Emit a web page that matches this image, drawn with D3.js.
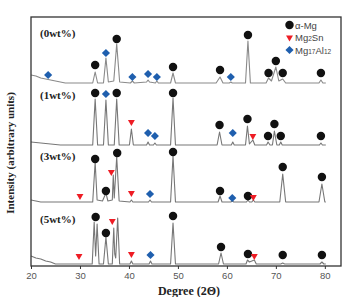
<!DOCTYPE html>
<html><head><meta charset="utf-8">
<script src="https://cdn.jsdelivr.net/npm/d3@7"></script>
<style>html,body{margin:0;padding:0;background:#fff;}svg{display:block;}</style>
</head><body>
<svg id="c" width="344" height="297"></svg>
<script>
// ---- data ----
const xTicks = [20, 30, 40, 50, 60, 70, 80];
const seriesNames = ["(0wt%)", "(1wt%)", "(3wt%)", "(5wt%)"];
const seriesOffsets = [183, 121, 64, 2];
const profile0wt = [[20,8],[21,7],[22,5],[23,4],[24,3],[25,2],[26,1],[27,0],[32.6,0],[33.1,11],[33.6,0],[34.8,0],[35.3,25],[35.8,1],[36.9,2],[37.5,39],[38.1,1],[40.3,0],[40.7,2],[41.1,0],[43.6,1],[43.9,3],[44.2,1],[45.4,0],[45.7,2],[46,0],[48.5,0],[49,10],[49.5,0],[57.8,0],[58.6,6],[59.2,0],[60.5,0],[60.8,1],[61.1,0],[63.8,0],[64.3,42],[64.8,0],[68,0],[68.5,5],[69.1,2],[70,16],[70.6,2],[71.4,4],[72,0],[78.8,0],[79.2,3],[79.6,0],[80.2,0]];
const profile1wt = [[20,3],[22,2],[24,1],[26,0],[32.6,0],[33.1,46],[33.6,0],[34.8,0],[35.3,45],[35.8,0],[37,0],[37.5,46],[38,0],[40.1,0],[40.5,16],[40.9,0],[43.6,0],[43.9,3],[44.2,0],[45,0],[45.3,2],[45.6,0],[48.5,0],[49,47],[49.5,0],[58,0],[58.5,13],[59,0],[60.9,0],[61.2,3],[61.5,0],[63.8,0],[64.2,19],[64.6,1],[65.3,5],[65.7,0],[68.1,0],[68.4,3],[68.8,0],[69.3,0],[69.7,14],[70.2,0],[70.7,0],[71,3],[71.3,0],[78.9,0],[79.2,2],[79.5,0],[80.2,0]];
const profile3wt = [[20,2],[21,1],[22,0],[32.6,0],[33.1,40],[33.5,2],[34.6,1],[35.3,9],[35.7,1],[36.6,2],[36.8,27],[37,4],[37.5,45],[38,1],[40.2,0],[40.5,2],[40.8,0],[44,0],[44.3,2],[44.6,0],[48.5,0],[49,46],[49.5,0],[58.2,0],[58.6,6],[59,0],[60.8,0],[61.1,1],[61.4,0],[64,0],[64.3,2],[64.6,0],[65.1,0],[65.4,2],[65.7,0],[70.8,0],[71.4,28],[72,0],[78.8,0],[79.4,18],[80,0],[80.2,0]];
const profile5wt = [[20,8],[21,6],[22,5],[23,3],[24,2],[25,0],[32.5,0],[32.9,42],[33.2,8],[33.5,40],[33.9,0],[34.8,0],[35.3,27],[35.8,0],[36.6,0],[36.9,36],[37.1,10],[37.3,6],[37.7,46],[38.1,0],[40.2,0],[40.5,3],[40.8,0],[44.1,0],[44.4,3],[44.7,0],[48.5,0],[49,41],[49.5,0],[58.3,0],[58.8,11],[59.3,0],[63.9,0],[64.2,4],[64.6,2],[65.6,4],[66,0],[71,0],[71.4,1],[71.8,0],[79,0],[79.4,2],[79.8,0],[80.2,0]];
const profiles = [profile0wt, profile1wt, profile3wt, profile5wt];
// markers: [phase, 2theta, height above series baseline]
const markers0wt = [["d",23.5,8],["c",33.1,18],["d",35.3,30],["c",37.5,44],["d",40.7,6],["d",43.9,9],["d",45.7,6],["c",49,16],["c",58.6,13],["d",60.8,6],["c",64.3,48],["c",68.5,10],["c",70,22],["c",71.4,10],["c",79.2,10]];
const markers1wt = [["c",33.1,52],["d",35.3,51],["c",37.5,52],["t",40.5,23],["d",43.9,12],["d",45.3,9],["c",49,52],["c",58.5,20],["d",61.2,12],["c",64.2,26],["t",65.3,9],["c",68.4,9],["c",69.7,21],["c",71,9],["c",79.2,9]];
const markers3wt = [["t",30,6],["c",33.1,43],["c",35.3,11],["t",36.4,30],["c",37.6,49],["t",40.5,9],["d",44.3,8],["c",49,50],["c",58.6,11],["d",61.1,4],["c",64.3,6],["t",65.4,5],["c",71.4,35],["c",79.4,25]];
const markers5wt = [["t",29.8,8],["c",33.2,47],["c",35.3,31],["t",36.6,43],["t",40.5,10],["d",44.4,9],["c",49,48],["c",58.8,17],["c",64.3,10],["t",65.6,8],["c",71.4,9],["c",79.4,9]];
const markerSets = [markers0wt, markers1wt, markers3wt, markers5wt];
const legendKeys = ["c", "t", "d"];
const legendLabels = [["α-Mg", ""], ["Mg", "2", "Sn"], ["Mg", "17", "Al", "12"]];
const phaseColors = {c: "#111111", t: "#ee1c24", d: "#1f5fae"};

// ---- drawing ----
const svg = d3.select("#c");
const x = d3.scaleLinear().domain([20, 83.3]).range([31, 341]);
const y = d3.scaleLinear().domain([0, 249]).range([266, 17]);

function symbolPath(k) {
  if (k === "c") return d3.symbol(d3.symbolCircle, 56)();
  if (k === "d") return d3.symbol(d3.symbolDiamond2, 42)();
  return d3.symbol(d3.symbolTriangle2, 34)();
}
function drawMarker(g, k, cx, cy) {
  const p = g.append("path").attr("d", symbolPath(k)).attr("fill", phaseColors[k]);
  if (k === "t") p.attr("transform", `translate(${cx},${cy}) rotate(180)`);
  else p.attr("transform", `translate(${cx},${cy})`);
}

const line = d3.line().x(d => x(d[0]));
profiles.forEach((prof, i) => {
  const off = seriesOffsets[i];
  svg.append("path")
    .attr("d", line.y(d => y(d[1] + off))(prof))
    .attr("fill", "none")
    .attr("stroke", i === 0 ? "#8a8a8a" : "#777")
    .attr("stroke-width", 1.1)
    .attr("stroke-linejoin", "round");
});
markerSets.forEach((ms, i) => {
  const off = seriesOffsets[i];
  ms.forEach(m => drawMarker(svg, m[0], x(m[1]), y(m[2] + off)));
});

// series labels
const labelY = [37, 99, 160, 223];
seriesNames.forEach((n, i) => {
  svg.append("text").attr("x", 40).attr("y", labelY[i])
    .attr("font-family", "Liberation Serif, serif").attr("font-weight", "bold")
    .attr("font-size", 11).attr("fill", "#222").text(n);
});

// frame
svg.append("rect").attr("x", 31).attr("y", 17).attr("width", 310).attr("height", 249)
  .attr("fill", "none").attr("stroke", "#333").attr("stroke-width", 1.3);

// x axis
const ax = svg.append("g").attr("transform", "translate(0,266)")
  .call(d3.axisBottom(x).tickValues(xTicks).tickSize(3).tickSizeOuter(0).tickPadding(3));
ax.select(".domain").remove();
ax.selectAll("line").attr("stroke", "#333");
ax.selectAll("text").attr("font-family", "Liberation Sans, Arial, sans-serif")
  .attr("font-size", 9.5).attr("fill", "#555");

svg.append("text").attr("x", 189).attr("y", 295).attr("text-anchor", "middle")
  .attr("font-family", "Liberation Serif, serif").attr("font-weight", "bold")
  .attr("font-size", 12).attr("fill", "#222").text("Degree (2Θ)");

svg.append("text").attr("transform", "translate(14,153) rotate(-90)").attr("text-anchor", "middle")
  .attr("font-family", "Liberation Serif, serif").attr("font-weight", "bold")
  .attr("font-size", 11).attr("fill", "#222").text("Intensity (arbitrary units)");

// legend
const legY = [25, 37.5, 50];
legendKeys.forEach((k, i) => {
  drawMarker(svg, k, 289.5, legY[i]);
  const t = svg.append("text").attr("x", 295).attr("y", legY[i] + 3.5)
    .attr("font-family", "Liberation Sans, Arial, sans-serif")
    .attr("font-size", 9.5).attr("fill", "#444");
  legendLabels[i].forEach((s, j) => {
    if (!s) return;
    const ts = t.append("tspan").text(s);
    if (j % 2 === 1) ts.attr("font-size", 6.5);
  });
});
</script>
</body></html>
